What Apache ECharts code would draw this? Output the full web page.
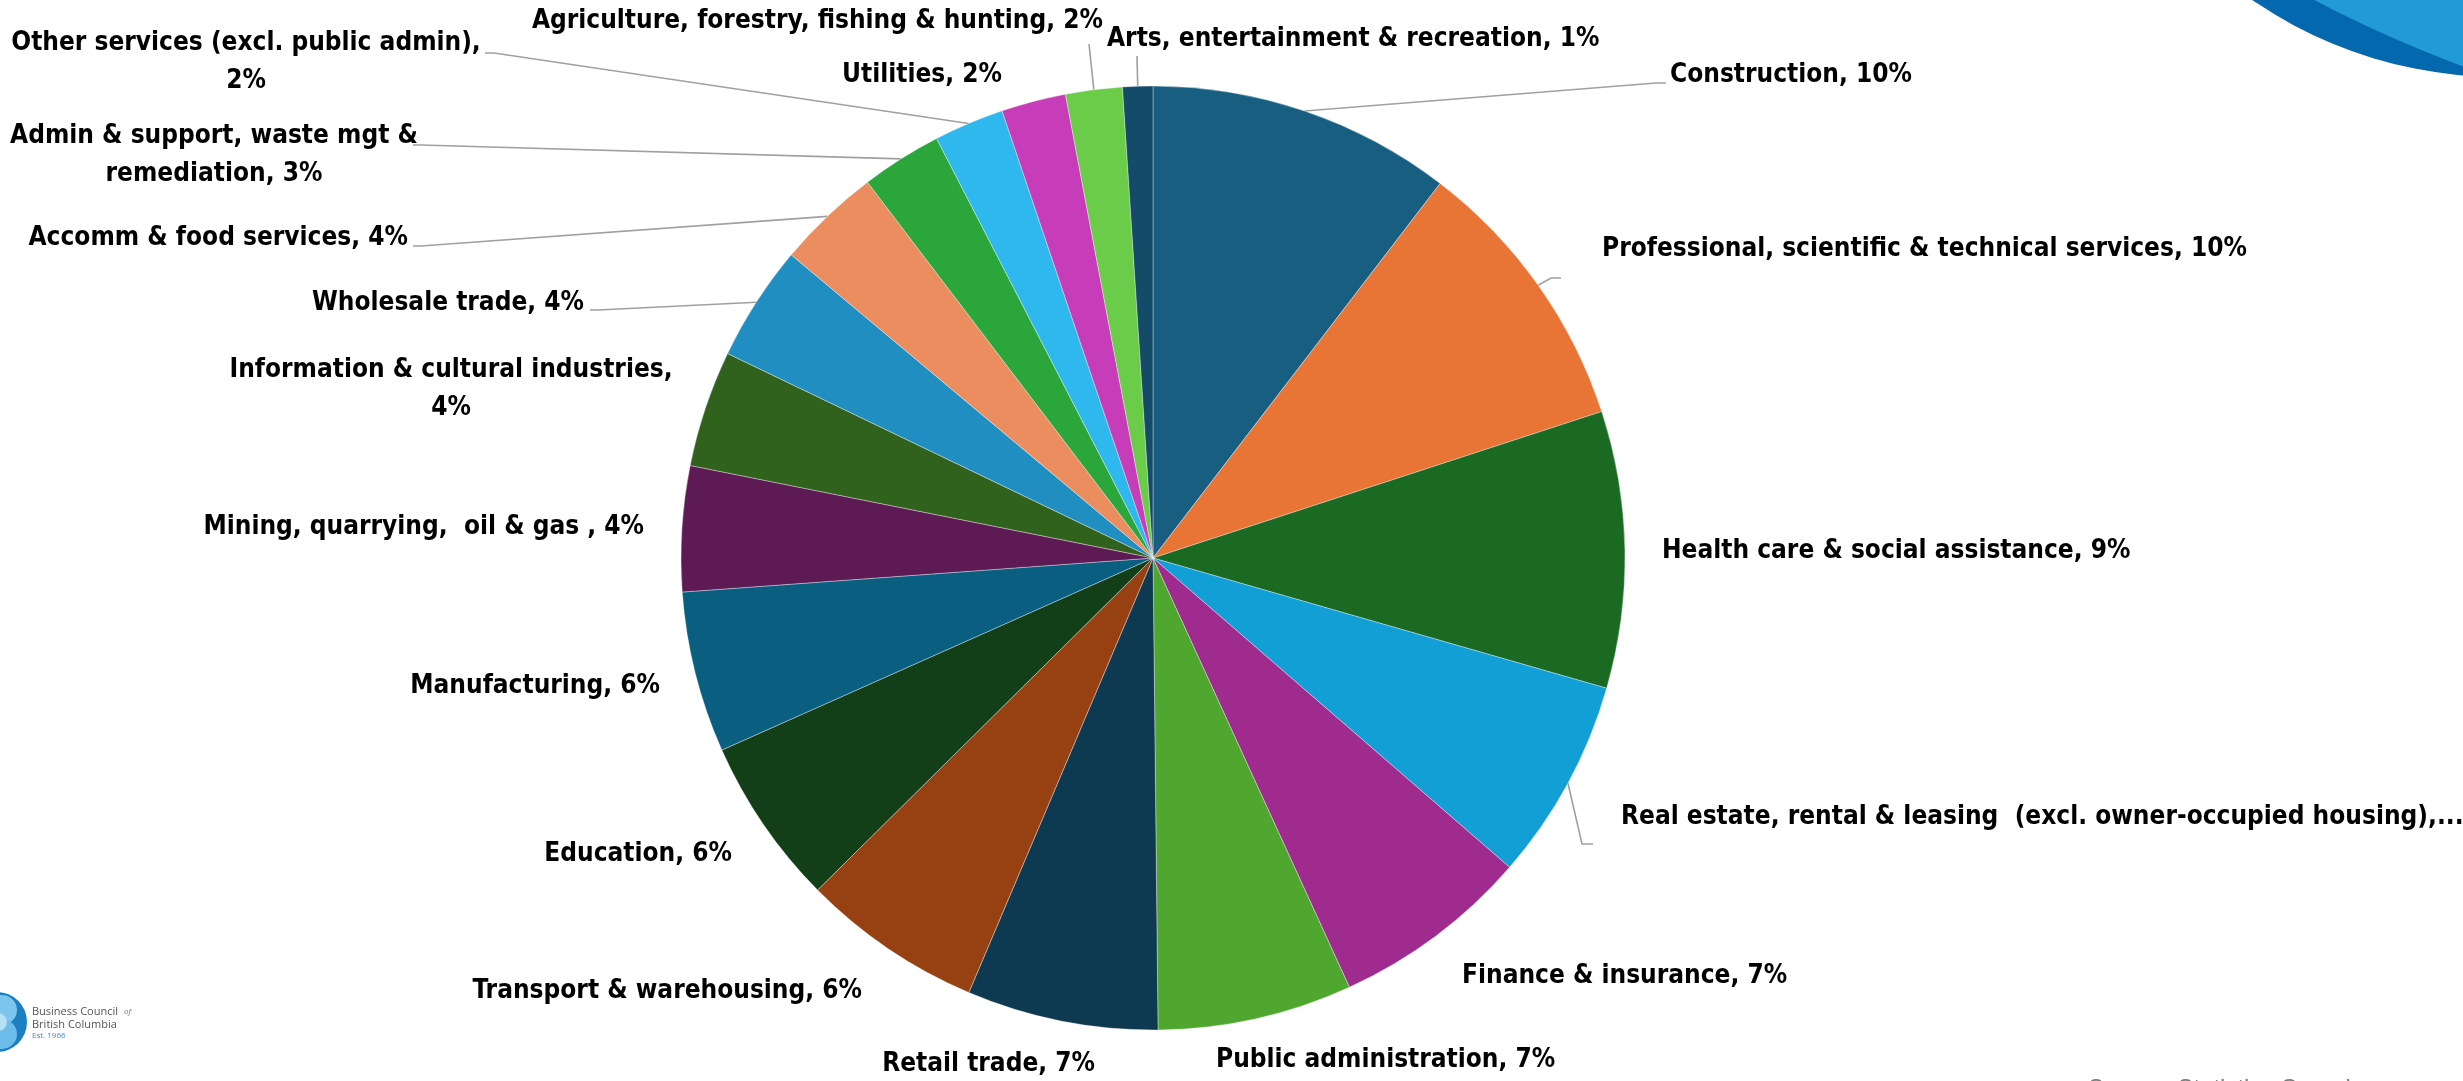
<!DOCTYPE html>
<html>
<head>
<meta charset="utf-8">
<script src="https://cdn.jsdelivr.net/npm/echarts@6/dist/echarts.min.js"></script>
<style>
  html, body { margin: 0; padding: 0; background: #ffffff; }
  #chart { width: 2463px; height: 1081px; }
</style>
</head>
<body>
<div id="chart"></div>
<script>
// Industry shares of output (per cent), clockwise from 12 o'clock
const categories = [
  'Construction',
  'Professional, scientific & technical services',
  'Health care & social assistance',
  'Real estate, rental & leasing  (excl. owner-occupied housing)',
  'Finance & insurance',
  'Public administration',
  'Retail trade',
  'Transport & warehousing',
  'Education',
  'Manufacturing',
  'Mining, quarrying,  oil & gas ',
  'Information & cultural industries',
  'Wholesale trade',
  'Accomm & food services',
  'Admin & support, waste mgt &\nremediation',
  'Other services (excl. public admin)',
  'Utilities',
  'Agriculture, forestry, fishing & hunting',
  'Arts, entertainment & recreation'
];
const shares = [10.41, 9.57, 9.47, 6.92, 6.80, 6.66, 6.55, 6.20, 5.75, 5.52,
                4.29, 3.99, 3.97, 3.56, 2.76, 2.40, 2.21, 1.94, 1.03];
const sliceColors = [
  '#175E80', '#E87435', '#1B6A24', '#119FD6', '#A02B8E', '#4FA72F', '#0D3A50',
  '#974012', '#123F17', '#0A5F80', '#5E1A55', '#30621E', '#208EC0', '#EB8D5E',
  '#2AA63A', '#2FB8EE', '#C73CB8', '#6ACC48', '#134B69'
];

// Separator between name and percentage in each label
const labelSep = [' ', ' ', ' ', ' ', ' ', ' ', ' ', ' ', ' ', ' ',
                  ' ', '\n', ' ', ' ', ' ', '\n', ' ', ' ', ' '];

// Label anchor: x, y (middle), alignment
const labelAnchors = [
  [1670, 75, 'left'],
  [1602, 249, 'left'],
  [1662, 551, 'left'],
  [1621, 817, 'left'],
  [1462, 976, 'left'],
  [1216, 1060, 'left'],
  [1095, 1064, 'right'],
  [862, 991, 'right'],
  [732, 854, 'right'],
  [660, 686, 'right'],
  [644, 527, 'right'],
  [451, 389, 'center'],
  [584, 303, 'right'],
  [408, 238, 'right'],
  [214, 155, 'center'],
  [246, 62, 'center'],
  [1002, 75, 'right'],
  [1103, 21, 'right'],
  [1107, 39, 'left']
];

// Leader line end: x, y, short horizontal tick towards the slice (null = no leader)
const leaderEnds = [
  [1666, 83, -10],
  [1561, 278, -10],
  null,
  [1593, 844, -11],
  null, null, null, null, null, null, null, null,
  [590, 310, 8],
  [413, 246, 8],
  [413, 145, 8],
  [485, 53, 9],
  null,
  [1089, 44, 0],
  [1137, 56, 0]
];

const pieCenter = [1153, 558];
const pieRadius = 472;
const labelFont = "'Liberation Sans Narrow', 'DejaVu Sans Condensed', 'Arial Narrow', sans-serif";
const labelSize = 26;
const RE_INDEX = 3;

// Width that shows the real-estate label up to "housing)," followed by an ellipsis
function measure(text) {
  const ctx = document.createElement('canvas').getContext('2d');
  ctx.font = 'bold ' + labelSize + 'px ' + labelFont;
  return ctx.measureText(text).width;
}
const reVisibleWidth = Math.ceil(measure(categories[RE_INDEX] + ',...')) + 1;

const chart = echarts.init(document.getElementById('chart'), null, {
  renderer: 'canvas', width: 2463, height: 1081
});

const option = {
  backgroundColor: '#ffffff',
  animation: false,
  graphic: [
    // corner swoosh, top right
    { type: 'circle', shape: { cx: 2500, cy: -360, r: 437 }, style: { fill: '#0468AF' }, silent: true },
    { type: 'circle', shape: { cx: 2901, cy: -1115, r: 1260 }, style: { fill: '#229AD6' }, silent: true },
    // organisation mark, bottom left
    { type: 'circle', shape: { cx: -3, cy: 1022, r: 30 }, style: { fill: '#1C7FC2' }, silent: true },
    { type: 'circle', shape: { cx: 2, cy: 1010, r: 15 }, style: { fill: '#7CC6EE' }, silent: true },
    { type: 'circle', shape: { cx: 2, cy: 1034, r: 15 }, style: { fill: '#6DBDEA' }, silent: true },
    { type: 'circle', shape: { cx: -2, cy: 1022, r: 9 }, style: { fill: '#B5E0F6' }, silent: true },
    { type: 'text', left: 32, top: 1006, silent: true,
      style: { text: 'Business Council', fill: '#555555', font: '11px "Open Sans", sans-serif' } },
    { type: 'text', left: 124, top: 1008, silent: true,
      style: { text: 'of', fill: '#777777', font: 'italic 8px "Open Sans", sans-serif' } },
    { type: 'text', left: 32, top: 1019, silent: true,
      style: { text: 'British Columbia', fill: '#555555', font: '11px "Open Sans", sans-serif' } },
    { type: 'text', left: 32, top: 1032, silent: true,
      style: { text: 'Est. 1966', fill: '#3E8CC4', font: '8px "Open Sans", sans-serif' } },
    // source line along the bottom edge
    { type: 'text', left: 2088, top: 1077, silent: true,
      style: { text: 'Source: Statistics Canada', fill: '#7F7F7F', font: '24px "Liberation Sans", Arial, sans-serif' } }
  ],
  series: [{
    type: 'pie',
    center: pieCenter,
    radius: pieRadius,
    startAngle: 90,
    clockwise: true,
    avoidLabelOverlap: false,
    itemStyle: { borderColor: '#ffffff', borderWidth: 0.35 },
    emphasis: { disabled: true },
    label: {
      show: true,
      position: 'outside',
      color: '#000000',
      fontFamily: labelFont,
      fontWeight: 'bold',
      fontSize: labelSize,
      lineHeight: 38,
      width: 1100,
      overflow: 'none',
      formatter: function (p) {
        return p.name + ',' + labelSep[p.dataIndex] + Math.round(p.percent) + '%';
      }
    },
    labelLine: {
      show: true,
      length: 12,
      length2: 12,
      lineStyle: { color: '#A0A0A0', width: 1.6 }
    },
    labelLayout: function (p) {
      const a = labelAnchors[p.dataIndex];
      const out = { x: a[0], y: a[1], align: a[2], verticalAlign: 'middle' };
      const end = leaderEnds[p.dataIndex];
      if (end && p.labelLinePoints) {
        out.labelLinePoints = [p.labelLinePoints[0], [end[0] + end[2], end[1]], [end[0], end[1]]];
      }
      return out;
    },
    data: categories.map(function (name, i) {
      const item = {
        name: name,
        value: shares[i],
        itemStyle: { color: sliceColors[i] },
        labelLine: { show: leaderEnds[i] != null }
      };
      if (i === RE_INDEX) {
        item.label = { width: reVisibleWidth, overflow: 'truncate', ellipsis: '...' };
      }
      return item;
    })
  }]
};

chart.setOption(option);
</script>
</body>
</html>
